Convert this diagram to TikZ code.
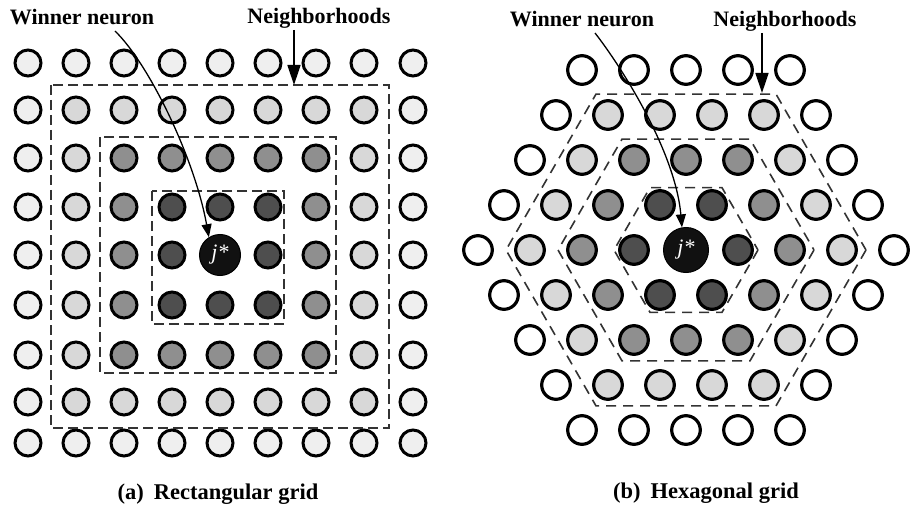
\documentclass[tikz,border=0pt]{standalone}
\usepackage{fontspec}
\setmainfont{Liberation Serif}
\usetikzlibrary{arrows.meta,calc}

% shades by distance from the winning neuron
\definecolor{rectshade1}{HTML}{4E4E4E}
\definecolor{rectshade2}{HTML}{8F8F8F}
\definecolor{rectshade3}{HTML}{D8D8D8}
\definecolor{rectshade4}{HTML}{EFEFEF}
\definecolor{hexshade1}{HTML}{4E4E4E}
\definecolor{hexshade2}{HTML}{8F8F8F}
\definecolor{hexshade3}{HTML}{D8D8D8}
\definecolor{hexshade4}{HTML}{FFFFFF}
\definecolor{winnerfill}{HTML}{111111}

\begin{document}
\begin{tikzpicture}[x=1pt,y=-1pt,
  cellA/.style={circle,draw=black,line width=3pt,minimum size=26pt,inner sep=0pt},
  cellB/.style={circle,draw=black,line width=3.2pt,minimum size=28.6pt,inner sep=0pt},
  winner/.style={circle,fill=winnerfill,draw=black,line width=1pt,inner sep=0pt,
    text=white,font=\fontsize{22}{22}\selectfont\itshape},
  zone/.style={draw=black!80,line width=1.6pt,dash pattern=on 10pt off 5pt},
  hexzone/.style={draw=black!80,line width=1.6pt,dash pattern=on 10pt off 7pt},
  label/.style={font=\fontsize{22}{26}\selectfont\bfseries,anchor=base,inner sep=0pt},
  caption/.style={font=\fontsize{22.5}{26}\selectfont\bfseries,anchor=base,inner sep=0pt},
  pointer/.style={-{Triangle[length=13pt,width=10pt]},line width=1.3pt},
  bigpointer/.style={-{Triangle[length=20pt,width=13pt]},line width=1.5pt}
]
\fill[white] (0,0) rectangle (916,508);
\useasboundingbox (0,0) rectangle (916,508);

% ---------- (a) rectangular lattice ----------
\foreach \cy [count=\i from 0] in {63,110,158,207,255,305,355,402,443}{
  \foreach \cx [count=\j from 0] in {28,76,124,172,220,268,316,364,413}{
    \pgfmathtruncatemacro\dd{max(abs(\i-4),abs(\j-4))}
    \ifnum\dd>0
      \node[cellA,fill=rectshade\dd] (a-\i-\j) at (\cx,\cy) {};
    \fi
  }
}
\node[winner,minimum size=41pt] (ja) at (220,255) {j*};

\draw[zone] (51,85) rectangle (389,428);
\draw[zone] (100,137) rectangle (336,373);
\draw[zone] (152,191) rectangle (284,324);

\node[label] (wla) at (82,25) {Winner neuron};
\node[label] (nla) at (319,24) {Neighborhoods};
\coordinate (tipa) at (294,85);
\draw[bigpointer] ([shift={(-25,6)}]nla.base) -- (tipa);
\draw[pointer] ([shift={(33,6)}]wla.base) .. controls (150,65) and (195,160) .. (ja.122);

\node[caption] (capa) at (218,499) {(a)\hspace{10pt}Rectangular grid};

% ---------- (b) hexagonal lattice ----------
\foreach \r in {-4,...,4}{
  \pgfmathtruncatemacro\ar{abs(\r)}
  \pgfmathtruncatemacro\smax{8-\ar}
  \foreach \c in {0,...,\smax}{
    \pgfmathtruncatemacro\s{2*\c-\smax}
    \pgfmathtruncatemacro\dd{\ar+max(0,(abs(\s)-\ar)/2)}
    \ifnum\dd>0
      \node[cellB,fill=hexshade\dd] (b\r-\c) at ({686+26*\s},{250+45*\r}) {};
    \fi
  }
}
\node[winner,minimum size=45pt] (jb) at (686,250) {j*};

\foreach \rad in {72,128,180}{
  \draw[hexzone] ($(jb.center)+(0:\rad)$)
    -- ($(jb.center)+(60:\rad)$) -- ($(jb.center)+(120:\rad)$)
    -- ($(jb.center)+(180:\rad)$) -- ($(jb.center)+(240:\rad)$)
    -- ($(jb.center)+(300:\rad)$) -- cycle;
}

\node[label] (wlb) at (582,27) {Winner neuron};
\node[label] (nlb) at (785,27) {Neighborhoods};
\coordinate (tipb) at (762,93);
\draw[bigpointer] ([shift={(-23,6)}]nlb.base) -- (tipb);
\draw[pointer] ([shift={(13,6)}]wlb.base) .. controls (620,65) and (675,150) .. (jb.100);

\node[caption] (capb) at (706,498) {(b)\hspace{10pt}Hexagonal grid};
\end{tikzpicture}
\end{document}
